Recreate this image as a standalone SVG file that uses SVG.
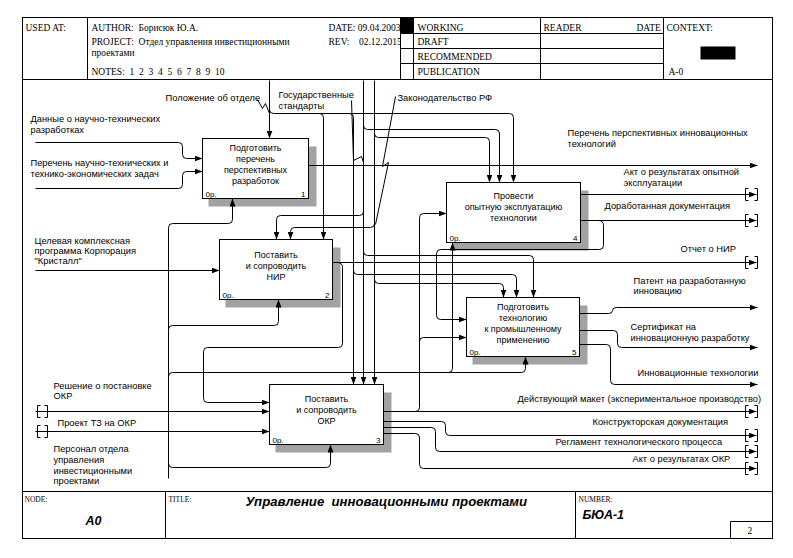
<svg xmlns="http://www.w3.org/2000/svg" width="793" height="558" viewBox="0 0 793 558">
<defs>
<pattern id="h" width="2" height="2" patternUnits="userSpaceOnUse"><rect width="2" height="2" fill="#fff"/><rect width="1" height="1" fill="#444"/><rect x="1" y="1" width="1" height="1" fill="#444"/></pattern>
<marker id="a" markerWidth="8" markerHeight="6" refX="8" refY="3" orient="auto" markerUnits="userSpaceOnUse"><path d="M0,0 L8,3 L0,6 z" fill="#000"/></marker>
<clipPath id="cl"><rect x="320" y="17" width="80" height="62"/></clipPath>
</defs>
<style>
.fr{fill:none;stroke:#000;stroke-width:1}
.c path{fill:none;stroke:#000;stroke-width:1}
.c .ar{marker-end:url(#a)}
.b{fill:#fff;stroke:#000;stroke-width:1}
.s{fill:url(#h)}
.t{font-family:"Liberation Sans Narrow","Liberation Sans",Arial,sans-serif;font-size:9px;text-anchor:middle}
.n{font-family:"Liberation Sans Narrow","Liberation Sans",Arial,sans-serif;font-size:8px}
.ne{font-family:"Liberation Sans Narrow","Liberation Sans",Arial,sans-serif;font-size:8px;text-anchor:end}
.l{font-family:"Liberation Sans",Arial,sans-serif;font-size:9.3px}
.h{font-family:"Liberation Serif","Times New Roman",serif;font-size:9.5px;white-space:pre}
.ft{font-family:"Liberation Serif","Times New Roman",serif;font-size:7.5px}
.bi{font-family:"Liberation Sans",Arial,sans-serif;font-size:12.5px;font-weight:bold;font-style:italic;white-space:pre}
</style>
<rect width="793" height="558" fill="#fff"/>
<g transform="translate(0.5,0.5)">
<g id="frame">
<rect class="fr" x="22" y="17" width="750" height="521" stroke-width="1.5"/>
<path class="fr" d="M22,79 H772 M87,17 V79 M400,17 V79 M413,17 V79 M540,17 V79 M663,17 V79 M400,33 H663 M400,48 H663 M400,63 H663 M22,491 H772 M165,491 V538 M575,491 V538 M730,521 H772 M730,521 V538"/>
<rect x="400" y="17" width="13" height="16" fill="#000"/>
<rect x="700" y="46" width="35" height="13" fill="#000"/>
<text class="h" x="25" y="30">USED AT:</text>
<text class="h" x="91" y="30" xml:space="preserve">AUTHOR:  Борисюк Ю.А.</text>
<text class="h" x="91" y="44" xml:space="preserve">PROJECT:  Отдел управления инвестиционными</text>
<text class="h" x="91" y="55">проектами</text>
<text class="h" x="91" y="74" xml:space="preserve">NOTES:  1  2  3  4  5  6  7  8  9  10</text>
<g clip-path="url(#cl)">
<text class="h" x="328" y="30">DATE: 09.04.2003</text>
<text class="h" x="328" y="44" xml:space="preserve">REV:    02.12.2015</text>
</g>
<text class="h" x="417" y="30">WORKING</text>
<text class="h" x="417" y="44">DRAFT</text>
<text class="h" x="417" y="59">RECOMMENDED</text>
<text class="h" x="417" y="74">PUBLICATION</text>
<text class="h" x="543" y="30">READER</text>
<text class="h" x="636" y="30">DATE</text>
<text class="h" x="666" y="30">CONTEXT:</text>
<text class="h" x="668" y="74">A-0</text>
<text class="ft" x="24" y="501">NODE:</text>
<text class="bi" x="85" y="524">A0</text>
<text class="ft" x="168" y="501">TITLE:</text>
<text class="bi" x="245" y="505" style="font-size:13.2px" xml:space="preserve">Управление  инновационными проектами</text>
<text class="ft" x="578" y="501">NUMBER:</text>
<text class="bi" x="582" y="518">БЮА-1</text>
<text class="h" x="747" y="533">2</text>
</g>
<g id="shadows">
<rect class="s" x="208" y="146" width="108" height="60"/>
<rect class="s" x="225" y="247" width="115" height="60"/>
<rect class="s" x="275" y="392" width="116" height="60"/>
<rect class="s" x="452" y="190" width="136" height="60"/>
<rect class="s" x="472" y="305" width="115" height="59"/>
</g>
<g id="node1">
<rect class="b" x="202" y="138" width="106" height="60"/>
<text class="t" x="255" y="150">Подготовить</text>
<text class="t" x="255" y="161">перечень</text>
<text class="t" x="255" y="172">перспективных</text>
<text class="t" x="255" y="183">разработок</text>
<text class="n" x="205" y="196">0р.</text>
<text class="ne" x="305" y="196">1</text>
</g>
<g id="node2">
<rect class="b" x="219" y="239" width="113" height="60"/>
<text class="t" x="275.5" y="257">Поставить</text>
<text class="t" x="275.5" y="268">и сопроводить</text>
<text class="t" x="275.5" y="279">НИР</text>
<text class="n" x="222" y="297">0р.</text>
<text class="ne" x="329" y="297">2</text>
</g>
<g id="node3">
<rect class="b" x="269" y="384" width="114" height="60"/>
<text class="t" x="326" y="401">Поставить</text>
<text class="t" x="326" y="412">и сопроводить</text>
<text class="t" x="326" y="423">ОКР</text>
<text class="n" x="272" y="442">0р.</text>
<text class="ne" x="380" y="442">3</text>
</g>
<g id="node4">
<rect class="b" x="446" y="182" width="134" height="60"/>
<text class="t" x="513" y="198">Провести</text>
<text class="t" x="513" y="209">опытную эксплуатацию</text>
<text class="t" x="513" y="220">технологии</text>
<text class="n" x="449" y="240">0р.</text>
<text class="ne" x="577" y="240">4</text>
</g>
<g id="node5">
<rect class="b" x="466" y="297" width="113" height="59"/>
<text class="t" x="522.5" y="309">Подготовить</text>
<text class="t" x="522.5" y="320">технологию</text>
<text class="t" x="522.5" y="331">к промышленному</text>
<text class="t" x="522.5" y="342">применению</text>
<text class="n" x="469" y="354">0р.</text>
<text class="ne" x="576" y="354">5</text>
</g>
<g id="connectors" class="c">
<path class="ar" d="M35,142 H178 Q182,142 182,146 V154 Q182,158 186,158 H202"/>
<path class="ar" d="M35,188 H178 Q182,188 182,184 V175 Q182,171 186,171 H202"/>
<path class="ar" d="M35,270 H219"/>
<path class="ar" d="M269,80 V138"/>
<path d="M257,99 L262,108 L265,103 L269,113"/>
<path class="ar" d="M269,109 Q269,113 273,113 H509 Q513,113 513,117 V182"/>
<path class="ar" d="M319,113 Q323,113 323,117 V239"/>
<path class="ar" d="M349,113 Q353,113 353,117 V384"/>
<path class="ar" d="M353,270 Q353,274 357,274 H512 Q516,274 516,278 V297"/>
<path d="M351,100 L353,160 L361,156 L363,162"/>
<path class="ar" d="M363,80 V384"/>
<path class="ar" d="M363,125 Q363,129 367,129 H495 Q499,129 499,133 V182"/>
<path class="ar" d="M363,211 Q363,215 359,215 H280 Q276,215 276,219 V239"/>
<path class="ar" d="M363,251 Q363,255 367,255 H529 Q533,255 533,259 V297"/>
<path class="ar" d="M374,80 V384"/>
<path class="ar" d="M374,133 Q374,137 378,137 H485 Q489,137 489,141 V182"/>
<path class="ar" d="M374,223 Q374,227 370,227 H294 Q290,227 290,231 V239"/>
<path class="ar" d="M374,279 Q374,283 378,283 H499 Q503,283 503,287 V297"/>
<path d="M395,96 L382,166 L388,162 L375,224"/>
<path class="ar" d="M308,165 H757"/>
<path class="ar" d="M332,262 H756"/>
<path class="ar" d="M337,262 Q342,262 342,267 V343 Q342,347 338,347 H207 Q203,347 203,351 V398 Q203,402 207,402 H269"/>
<path class="ar" d="M35,411 H269"/>
<path class="ar" d="M35,431 H269"/>
<path class="ar" d="M383,411 H756"/>
<path class="ar" d="M415,411 Q419,411 419,407 V217 Q419,213 423,213 H446"/>
<path class="ar" d="M419,341 Q419,337 423,337 H466"/>
<path class="ar" d="M383,421 H441 Q445,421 445,425 V431 Q445,435 449,435 H756"/>
<path class="ar" d="M383,427 H431 Q435,427 435,431 V447 Q435,451 439,451 H756"/>
<path class="ar" d="M383,433 H415 Q419,433 419,437 V464 Q419,468 423,468 H756"/>
<path class="ar" d="M580,194 H756"/>
<path class="ar" d="M580,220 H756"/>
<path class="ar" d="M598,220 Q603,220 603,225 V245 Q603,249 599,249 H440 Q436,249 436,253 V315 Q436,319 440,319 H466"/>
<path class="ar" d="M579,313 H608 Q612,313 612,310 Q612,307 616,307 H757"/>
<path class="ar" d="M579,330 H613 Q617,330 617,334 V343 Q617,347 621,347 H757"/>
<path class="ar" d="M579,344 H606 Q610,344 610,348 V380 Q610,384 614,384 H757"/>
<path class="ar" d="M168,478 V227 Q168,223 172,223 H228 Q232,223 232,219 V198"/>
<path class="ar" d="M168,329 Q168,325 172,325 H274 Q278,325 278,321 V299"/>
<path class="ar" d="M168,376 Q168,372 172,372 H521 Q525,372 525,368 V356"/>
<path class="ar" d="M448,372 Q452,372 452,368 V242"/>
<path class="ar" d="M168,463 Q168,467 172,467 H326 Q330,467 330,463 V444"/>
<path d="M40,405 H37 V417 H40 M44,405 H47 V417 H44 M40,425 H37 V437 H40 M44,425 H47 V437 H44"/>
<path d="M748,188 H745 V200 H748 M754,188 H757 V200 H754 M748,214 H745 V226 H748 M754,214 H757 V226 H754 M748,256 H745 V268 H748 M754,256 H757 V268 H754 M748,405 H745 V417 H748 M754,405 H757 V417 H754 M748,429 H745 V441 H748 M754,429 H757 V441 H754 M748,445 H745 V457 H748 M754,445 H757 V457 H754 M748,462 H745 V474 H748 M754,462 H757 V474 H754"/>
</g>
<g id="labels">
<text class="l" x="30" y="121">Данные о научно-технических</text>
<text class="l" x="30" y="132">разработках</text>
<text class="l" x="30" y="165">Перечень научно-технических и</text>
<text class="l" x="30" y="176">технико-экономических задач</text>
<text class="l" x="165" y="100">Положение об отделе</text>
<text class="l" x="278" y="97">Государственные</text>
<text class="l" x="278" y="108">стандарты</text>
<text class="l" x="397" y="100">Законодательство РФ</text>
<text class="l" x="567" y="135">Перечень перспективных инновационных</text>
<text class="l" x="567" y="146">технологий</text>
<text class="l" x="623" y="174">Акт о результатах опытной</text>
<text class="l" x="623" y="185">эксплуатации</text>
<text class="l" x="604" y="208">Доработанная документация</text>
<text class="l" x="680" y="251">Отчет о НИР</text>
<text class="l" x="34" y="243">Целевая комплексная</text>
<text class="l" x="34" y="253">программа Корпорация</text>
<text class="l" x="34" y="263">"Кристалл"</text>
<text class="l" x="633" y="283">Патент на разработанную</text>
<text class="l" x="633" y="293">инновацию</text>
<text class="l" x="630" y="329">Сертификат на</text>
<text class="l" x="630" y="340">инновационную разработку</text>
<text class="l" x="637" y="375">Инновационные технологии</text>
<text class="l" x="517" y="401">Действующий макет (экспериментальное производство)</text>
<text class="l" x="53" y="388">Решение о постановке</text>
<text class="l" x="53" y="398">ОКР</text>
<text class="l" x="57" y="425">Проект ТЗ на ОКР</text>
<text class="l" x="592" y="424">Конструкторская документация</text>
<text class="l" x="555" y="444">Регламент технологического процесса</text>
<text class="l" x="632" y="461">Акт о результатах ОКР</text>
<text class="l" x="53" y="451">Персонал отдела</text>
<text class="l" x="53" y="462">управления</text>
<text class="l" x="53" y="473">инвестиционными</text>
<text class="l" x="53" y="483">проектами</text>
</g>
</g>
</svg>
